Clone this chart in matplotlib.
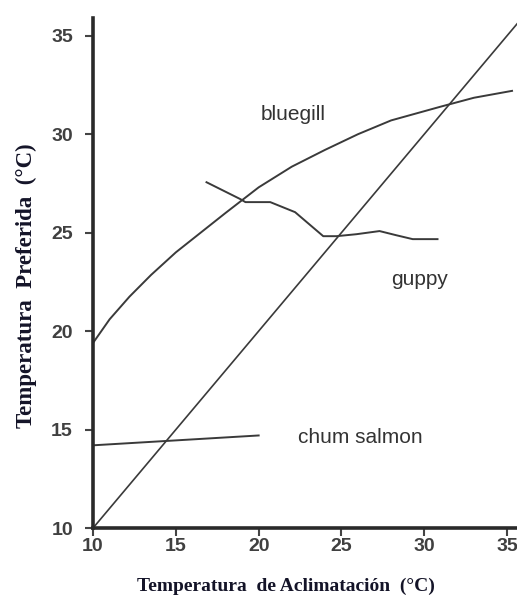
import matplotlib.pyplot as plt
import numpy as np

# Data (preferred vs acclimation temperature)
bluegill_x = [10, 11, 12.2, 13.5, 15, 16.5, 18, 19, 20, 22, 24, 26, 28, 31, 33, 35.3]
bluegill_y = [19.4, 20.6, 21.75, 22.85, 24.0, 25.0, 26.0, 26.65, 27.3, 28.35, 29.2, 30.0, 30.7, 31.4, 31.85, 32.2]

guppy_x = [16.85, 18.9, 19.2, 20.7, 22.2, 23.9, 24.7, 25.9, 27.3, 28.3, 29.3, 30.8]
guppy_y = [27.56, 26.7, 26.55, 26.55, 26.04, 24.82, 24.82, 24.92, 25.08, 24.87, 24.67, 24.67]

chum_x = [10, 20]
chum_y = [14.2, 14.7]

diag_x = [10, 36]
diag_y = [10, 36]

x_ticks = [10, 15, 20, 25, 30, 35]
y_ticks = [10, 15, 20, 25, 30, 35]

line_col = '#3a3a3a'
txt_col = '#333333'

fig = plt.figure(figsize=(5.17, 6.04), dpi=100)
ax = fig.add_axes([0.180, 0.1258, 0.820, 0.8444])

ax.plot(diag_x, diag_y, color=line_col, lw=1.2)
ax.plot(bluegill_x, bluegill_y, color=line_col, lw=1.4, solid_joinstyle='round')
ax.plot(guppy_x, guppy_y, color=line_col, lw=1.4, solid_joinstyle='round')
ax.plot(chum_x, chum_y, color=line_col, lw=1.4)

ax.text(20.1, 31.0, 'bluegill', fontsize=15, color=txt_col, va='center', ha='left',
        family='Liberation Sans')
ax.text(28.0, 22.6, 'guppy', fontsize=15, color=txt_col, va='center', ha='left',
        family='Liberation Sans')
ax.text(22.4, 14.6, 'chum salmon', fontsize=15, color=txt_col, va='center', ha='left',
        family='Liberation Sans')

ax.set_xlim(10, 35.6)
ax.set_ylim(10, 35.9)
ax.set_xticks(x_ticks)
ax.set_yticks(y_ticks)

for s in ['top', 'right']:
    ax.spines[s].set_visible(False)
for s in ['left', 'bottom']:
    ax.spines[s].set_linewidth(2.6)
    ax.spines[s].set_color('#2a2a2a')

ax.tick_params(direction='out', length=5.5, width=1.5, color='#444444',
               labelsize=14, labelcolor='#404040')
ax.tick_params(axis='x', pad=2)
ax.tick_params(axis='y', pad=9)
for lab in ax.get_xticklabels() + ax.get_yticklabels():
    lab.set_fontweight('bold')
    lab.set_family('Liberation Sans')

ax.set_xlabel('Temperatura  de Aclimatación  (°C)', family='Liberation Serif',
              fontweight='bold', fontsize=14, color='#141428')
ax.xaxis.set_label_coords(0.456, -0.097)
ax.set_ylabel('Temperatura  Preferida  (°C)', family='Liberation Serif',
              fontweight='bold', fontsize=16.5, color='#141428')
ax.yaxis.set_label_coords(-0.133, 0.475)

plt.savefig('out.png', dpi=100)
